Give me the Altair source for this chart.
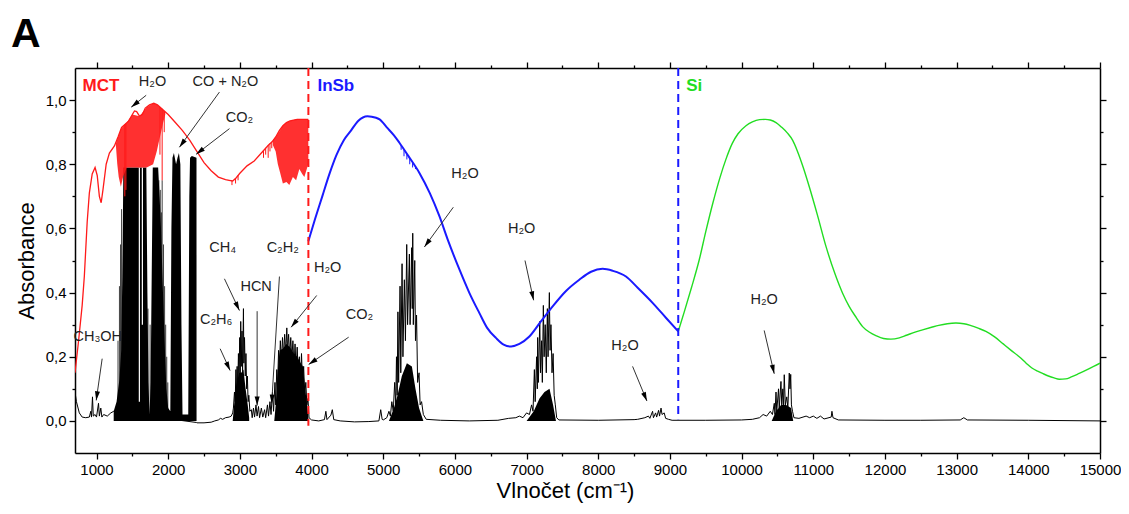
import math
import altair as alt
import pandas as pd

FONT = "Liberation Sans"
W, H = 1025, 385
XMIN, XMAX = 700, 15000
YMIN, YMAX = -0.1, 1.1

# ---------------- MCT detector (red) ----------------
mct_wn = [700, 750, 800, 830, 870, 900, 940, 980, 1010, 1040, 1065, 1090, 1135, 1180, 1250,
          1300, 1350, 1400, 1450, 1500, 1530, 1560, 1600, 1640, 1680, 1740, 1800, 1850, 1900,
          1950, 2000, 2100, 2200, 2300, 2400, 2500, 2600, 2700, 2800, 2850, 2900, 2950, 3000,
          3100, 3200, 3300, 3400, 3450, 3500, 3550, 3600, 3650, 3700, 3800, 3955]
mct_abs = [0.15, 0.25, 0.36, 0.45, 0.62, 0.71, 0.77, 0.79, 0.765, 0.70, 0.68, 0.72, 0.80, 0.835, 0.857,
           0.885, 0.915, 0.925, 0.935, 0.955, 0.966, 0.964, 0.95, 0.955, 0.975, 0.985, 0.99, 0.985, 0.975,
           0.965, 0.955, 0.93, 0.905, 0.875, 0.84, 0.805, 0.78, 0.76, 0.752, 0.75, 0.748, 0.758, 0.772,
           0.795, 0.81, 0.835, 0.86, 0.87, 0.885, 0.905, 0.92, 0.93, 0.935, 0.94, 0.94]

# dense water lines on the MCT curve (upper / lower envelope)
mct_b1_wn = [1270, 1290, 1310, 1340, 1370, 1420, 1500, 1600, 1700, 1790, 1840, 1870, 1900, 1930, 1960]
mct_b1_hi = [0.865, 0.878, 0.89, 0.91, 0.918, 0.929, 0.955, 0.95, 0.978, 0.989, 0.986, 0.981, 0.975, 0.969, 0.963]
mct_b1_lo = [0.86, 0.80, 0.76, 0.73, 0.76, 0.79, 0.79, 0.79, 0.79, 0.80, 0.84, 0.87, 0.90, 0.93, 0.955]

mct_b2_wn = [3460, 3500, 3530, 3560, 3600, 3650, 3690, 3740, 3785, 3830, 3870, 3900, 3940, 3955]
mct_b2_hi = [0.875, 0.885, 0.895, 0.905, 0.92, 0.93, 0.934, 0.937, 0.94, 0.94, 0.94, 0.94, 0.94, 0.94]
mct_b2_lo = [0.86, 0.84, 0.80, 0.775, 0.74, 0.745, 0.735, 0.76, 0.75, 0.785, 0.77, 0.76, 0.79, 0.80]

mct_sp_wn = [1916, 1885, 1945, 1395, 1410, 2890, 2940, 2975, 3330, 3360, 3395, 3420, 3445]
mct_sp_hi = [0.973, 0.978, 0.966, 0.924, 0.927, 0.749, 0.757, 0.766, 0.843, 0.851, 0.859, 0.865, 0.87]
mct_sp_lo = [0.75, 0.83, 0.90, 0.70, 0.72, 0.735, 0.74, 0.75, 0.82, 0.83, 0.82, 0.84, 0.85]

# ---------------- InSb detector (blue) ----------------
insb_wn = [3955, 4050, 4150, 4250, 4350, 4450, 4550, 4650, 4780, 4900, 4950, 5050, 5150, 5226, 5350,
           5505, 5650, 5784, 5900, 6063, 6200, 6342, 6450, 6575, 6680, 6784, 6900, 7039, 7200, 7364,
           7550, 7736, 7900, 8061, 8200, 8387, 8550, 8758, 8950, 9116]
insb_abs = [0.56, 0.63, 0.70, 0.77, 0.83, 0.875, 0.905, 0.935, 0.95, 0.945, 0.94, 0.915, 0.89, 0.867, 0.826,
            0.773, 0.71, 0.638, 0.565, 0.472, 0.40, 0.336, 0.29, 0.258, 0.238, 0.232, 0.24, 0.263, 0.31, 0.357,
            0.405, 0.44, 0.465, 0.474, 0.468, 0.45, 0.415, 0.368, 0.32, 0.279]
insb_sp_wn = [5250, 5290, 5330, 5370, 5410, 5450]
insb_sp_hi = [0.859, 0.846, 0.832, 0.819, 0.805, 0.791]
insb_sp_lo = [0.845, 0.825, 0.815, 0.80, 0.79, 0.785]

# ---------------- Si detector (green) ----------------
si_wn = [9116, 9200, 9300, 9410, 9500, 9600, 9700, 9782, 9870, 9950, 10061, 10150, 10250, 10330,
         10400, 10480, 10560, 10640, 10711, 10780, 10860, 10944, 11060, 11177, 11300, 11409, 11500,
         11600, 11688, 11780, 11880, 11980, 12083, 12200, 12300, 12420, 12524, 12650, 12750, 12870,
         12990, 13100, 13200, 13300, 13408, 13530, 13650, 13760, 13873, 13970, 14050, 14130, 14198,
         14280, 14360, 14431, 14520, 14600, 14710, 14850, 15000]
si_abs = [0.279, 0.34, 0.415, 0.503, 0.59, 0.68, 0.76, 0.816, 0.865, 0.895, 0.92, 0.932, 0.939, 0.94,
          0.938, 0.93, 0.915, 0.897, 0.875, 0.84, 0.79, 0.73, 0.64, 0.544, 0.46, 0.398, 0.357, 0.322,
          0.294, 0.277, 0.265, 0.257, 0.255, 0.259, 0.267, 0.277, 0.284, 0.292, 0.298, 0.303, 0.305,
          0.303, 0.297, 0.289, 0.279, 0.262, 0.24, 0.22, 0.20, 0.18, 0.165, 0.155, 0.148, 0.14, 0.134,
          0.13, 0.131, 0.137, 0.148, 0.163, 0.18]

# ---------------- gas spectrum (black) ----------------
gas_wn = [700, 720, 760, 800, 850, 900, 920, 930, 944, 955, 980, 1000, 1028, 1040, 1060, 1075, 1100,
          1150, 1200, 1240, 2397, 2400, 2500, 2600, 2650, 2700, 2730, 2760, 2800, 2850, 2880, 2900,
          2910, 2925, 2935, 2945, 2952, 2962, 2970, 2980, 2988, 2998, 3005, 3012, 3020, 3030, 3038,
          3050, 3056, 3065, 3075, 3085, 3095, 3105, 3115, 3125, 3140,
          3160, 3172, 3190, 3205, 3225, 3240, 3260, 3275, 3300, 3320, 3345, 3360, 3385, 3400, 3420,
          3435, 3455, 3470, 3490, 3500,
          3515, 3525, 3540, 3550, 3565, 3580, 3595, 3610, 3625, 3640, 3655, 3665, 3680, 3695, 3710,
          3725, 3740, 3755, 3770, 3785, 3800, 3815, 3830, 3845, 3860, 3875, 3890, 3905, 3920, 3935,
          3950, 3965, 4000, 4100, 4180, 4200, 4215, 4270, 4290, 4310, 4400, 4600, 4800, 4940, 4965,
          4985, 5000, 5050,
          5080, 5100, 5120, 5140, 5160, 5175, 5185, 5195, 5205, 5215, 5235, 5245, 5263, 5275, 5295,
          5310, 5328, 5340, 5365, 5375, 5397, 5405, 5412, 5420, 5440, 5450, 5465, 5480, 5500, 5515,
          5535, 5560, 5600, 5800, 6200, 6600, 6750, 6850,
          6900, 6950, 7000, 7040, 7070, 7090, 7109, 7120, 7140, 7150, 7155, 7165, 7184, 7195, 7210,
          7220, 7234, 7245, 7260, 7275, 7290, 7300, 7318, 7328, 7340, 7355, 7370, 7385, 7401, 7420,
          7450, 8000, 8500,
          8550, 8650, 8700, 8720, 8758, 8770, 8800, 8815, 8842, 8855, 8876, 8890, 8920, 8940, 8980,
          9030, 9500, 10000, 10150, 10250, 10300, 10350, 10400, 10430, 10456, 10465, 10480, 10490,
          10515, 10525, 10549, 10560, 10575, 10585, 10595, 10610, 10630, 10645, 10665, 10675, 10685,
          10695, 10710, 10730, 10800, 10900, 10950, 11000, 11050, 11100, 11150, 11250, 11260, 11275,
          11350, 12000, 12500, 13050, 13100, 13150, 14000, 15000]
gas_abs = [0.09, 0.06, 0.025, 0.012, 0.01, 0.012, 0.03, 0.012, 0.075, 0.015, 0.02, 0.012, 0.055, 0.015,
           0.04, 0.012, 0.02, 0.015, 0.025, 0.03, -0.005, -0.006, -0.006, -0.004, 0.0, 0.003, 0.008,
           0.005, 0.01, 0.012, 0.015, 0.025,
           0.04, 0.09, 0.06, 0.16, 0.08, 0.17, 0.10, 0.21, 0.12, 0.26, 0.14, 0.31, 0.17, 0.28, 0.15,
           0.35, 0.18, 0.26, 0.14, 0.21, 0.10, 0.14, 0.06, 0.08, 0.03,
           0.035, 0.01, 0.04, 0.012, 0.05, 0.015, 0.045, 0.01, 0.04, 0.012, 0.035, 0.01, 0.05, 0.015,
           0.06, 0.02, 0.09, 0.03, 0.12, 0.05,
           0.16, 0.10, 0.22, 0.15, 0.25, 0.18, 0.26, 0.20, 0.27, 0.21, 0.29, 0.22, 0.27, 0.20, 0.26,
           0.19, 0.25, 0.17, 0.24, 0.16, 0.23, 0.14, 0.20, 0.12, 0.21, 0.11, 0.17, 0.08, 0.12, 0.05,
           0.07, 0.01, 0.003, 0.0, 0.004, 0.03, 0.004, 0.018, 0.035, 0.004, 0.0, -0.003, -0.002, 0.0,
           0.035, 0.005, 0.003, 0.01,
           0.03, 0.015, 0.06, 0.03, 0.12, 0.05, 0.20, 0.08, 0.34, 0.12, 0.42, 0.15, 0.49, 0.20, 0.44,
           0.25, 0.55, 0.30, 0.52, 0.30, 0.54, 0.35, 0.585, 0.30, 0.50, 0.25, 0.33, 0.12, 0.15, 0.05,
           0.06, 0.02, 0.005, 0.002, 0.0, 0.002, 0.008, 0.01,
           0.015, 0.01, 0.025, 0.02, 0.05, 0.03, 0.16, 0.06, 0.20, 0.10, 0.26, 0.12, 0.31, 0.15, 0.25,
           0.12, 0.36, 0.20, 0.30, 0.15, 0.35, 0.20, 0.40, 0.22, 0.30, 0.15, 0.21, 0.08, 0.05, 0.01,
           0.003, 0.002, 0.004,
           0.005, 0.01, 0.015, 0.008, 0.03, 0.01, 0.025, 0.012, 0.033, 0.015, 0.04, 0.02, 0.025, 0.008,
           0.005, 0.002, 0.002, 0.003, 0.005, 0.01, 0.02, 0.015, 0.03, 0.02, 0.055, 0.02, 0.09, 0.03,
           0.10, 0.04, 0.123, 0.05, 0.10, 0.04, 0.144, 0.05, 0.075, 0.04, 0.149, 0.10, 0.145, 0.05,
           0.03, 0.01, 0.008, 0.015, 0.01, 0.015, 0.008, 0.015, 0.006, 0.012, 0.03, 0.01, 0.003, 0.002,
           0.002, 0.003, 0.01, 0.003, 0.002, 0.0]

# saturated / dense parts of the gas spectrum (filled envelopes)
fill_band = (["b1"] * 36 + ["b2"] * 10 + ["b3"] * 15 + ["b4"] * 9 + ["b5"] * 7 + ["b6"] * 6)
fill_wn = [1240, 1280, 1320, 1345, 1360, 1375, 1695, 1710, 1725, 1740, 1755, 1770,
           1785, 1860, 1880, 1900, 1920, 1950, 1975, 2000, 2030, 2045, 2060, 2080, 2110, 2130, 2150,
           2170, 2185, 2200, 2280, 2295, 2305, 2330, 2395, 2396,
           2900, 2920, 2940, 2960, 2990, 3020, 3050, 3080, 3110, 3130,
           3480, 3500, 3520, 3540, 3560, 3600, 3650, 3700, 3750, 3800, 3850, 3880, 3910, 3940, 3960,
           5080, 5150, 5200, 5260, 5330, 5400, 5450, 5500, 5560,
           7000, 7100, 7180, 7250, 7320, 7370, 7410,
           10420, 10480, 10550, 10620, 10690, 10720]
fill_abs = [0.03, 0.06, 0.13, 0.22, 0.45, 0.79, 0.79, 0.40, 0.12, 0.02, 0.12, 0.45,
            0.79, 0.79, 0.70, 0.60, 0.45, 0.25, 0.10, 0.04, 0.03, 0.6, 0.82, 0.835, 0.80, 0.82, 0.835,
            0.80, 0.3, 0.02, 0.02, 0.7, 0.82, 0.826, 0.82, -0.005,
            0.0, 0.05, 0.10, 0.12, 0.15, 0.15, 0.16, 0.10, 0.05, 0.01,
            0.0, 0.05, 0.12, 0.19, 0.22, 0.225, 0.24, 0.23, 0.21, 0.20, 0.18, 0.17, 0.10, 0.05, 0.0,
            0.0, 0.04, 0.08, 0.14, 0.18, 0.17, 0.10, 0.04, 0.0,
            0.0, 0.03, 0.07, 0.09, 0.10, 0.05, 0.0,
            0.0, 0.03, 0.05, 0.05, 0.04, 0.0]

# isolated absorption lines at the edges of the strong water band
line_wn = [1300, 1320, 1335, 1350, 1718, 1748, 1870, 1890, 1905, 1916, 1935, 1950, 1965, 1980, 1995]
line_abs = [0.25, 0.42, 0.55, 0.66, 0.35, 0.30, 0.75, 0.72, 0.65, 0.75, 0.55, 0.42, 0.30, 0.20, 0.12]
# narrow transmission windows inside the saturated water band
gap_wn = [1598, 1640]
gap_abs = [0.06, 0.30]

# ---------------- detector boundaries ----------------
bound_wn = [3956, 9116]
bound_top = [1.1, 1.1]
bound_bot = [-0.015, 0.005]
bound_col = ["#ff1a1a", "#1a1aff"]

# ---------------- annotations ----------------
det_text = ["MCT", "InSb", "Si"]
det_wn = [805, 4082, 9226]
det_abs = [1.043, 1.043, 1.043]
det_col = ["#ff1a1a", "#1a1aff", "#22dd22"]

lab_text = ["H₂O", "CO + N₂O", "CO₂", "CH₃OH", "CH₄", "C₂H₆", "HCN", "C₂H₂", "H₂O", "CO₂",
            "H₂O", "H₂O", "H₂O", "H₂O"]
lab_wn = [1781, 2799, 2994, 1018, 2761, 2669, 3227, 3598, 4225, 4667, 6141, 6931, 8373, 10315]
lab_abs = [1.055, 1.055, 0.943, 0.263, 0.54, 0.315, 0.417, 0.54, 0.478, 0.329, 0.771, 0.597, 0.233, 0.376]

arr_wn1 = [1693, 2715, 2855, 1079, 2785, 2725, 3241, 3552, 4072, 4518, 5978, 6978, 8479, 10315]
arr_a1 = [1.015, 1.025, 0.911, 0.194, 0.443, 0.225, 0.342, 0.45, 0.391, 0.261, 0.666, 0.50, 0.17, 0.282]
arr_wn2 = [1484, 2157, 2390, 996, 2994, 2864, 3241, 3444, 3715, 3960, 5574, 7098, 8679, 10455]
arr_a2 = [0.978, 0.853, 0.831, 0.064, 0.344, 0.157, 0.048, 0.054, 0.292, 0.176, 0.542, 0.376, 0.062, 0.147]

# ---------------- build tables ----------------
xs = alt.Scale(domain=[XMIN, XMAX], nice=False, zero=False)
ys = alt.Scale(domain=[YMIN, YMAX], nice=False, zero=False)


def X(f="wn"):
    return alt.X(f"{f}:Q", scale=xs, axis=None)


def Y(f="a"):
    return alt.Y(f"{f}:Q", scale=ys, axis=None, stack=None)


gas = pd.DataFrame({"wn": gas_wn, "a": gas_abs})
fills = pd.DataFrame({"wn": fill_wn, "a": fill_abs, "band": fill_band})
lines = pd.DataFrame({"wn": line_wn, "a": line_abs, "z": [0.0] * len(line_wn)})
gaps = pd.DataFrame({"wn": gap_wn, "a": gap_abs, "top": [0.79] * len(gap_wn)})
mct = pd.DataFrame({"wn": mct_wn, "a": mct_abs})
mct_bands = pd.concat([
    pd.DataFrame({"wn": mct_b1_wn, "hi": mct_b1_hi, "lo": mct_b1_lo, "band": "r1"}),
    pd.DataFrame({"wn": mct_b2_wn, "hi": mct_b2_hi, "lo": mct_b2_lo, "band": "r2"}),
])
mct_sp = pd.DataFrame({"wn": mct_sp_wn, "hi": mct_sp_hi, "lo": mct_sp_lo})
insb = pd.DataFrame({"wn": insb_wn, "a": insb_abs})
insb_sp = pd.DataFrame({"wn": insb_sp_wn, "hi": insb_sp_hi, "lo": insb_sp_lo})
si = pd.DataFrame({"wn": si_wn, "a": si_abs})
bounds = pd.DataFrame({"wn": bound_wn, "top": bound_top, "bot": bound_bot, "col": bound_col})
dets = pd.DataFrame({"wn": det_wn, "a": det_abs, "t": det_text, "col": det_col})
labs = pd.DataFrame({"wn": lab_wn, "a": lab_abs, "t": lab_text})

px_wn = W / (XMAX - XMIN)
px_a = H / (YMAX - YMIN)
angles = []
for x1, y1, x2, y2 in zip(arr_wn1, arr_a1, arr_wn2, arr_a2):
    dx = (x2 - x1) * px_wn
    dy = -(y2 - y1) * px_a
    angles.append((math.degrees(math.atan2(dx, -dy)) + 360) % 360)
arrows = pd.DataFrame({"wn1": arr_wn1, "a1": arr_a1, "wn2": arr_wn2, "a2": arr_a2, "ang": angles})

# ---------------- layers ----------------
gas_fill = alt.Chart(fills).mark_area(color="black", opacity=1, clip=True).encode(
    x=X(), y=Y(), detail="band:N")
gas_gaps = alt.Chart(gaps).mark_rule(color="white", strokeWidth=1.2).encode(
    x=X(), y=Y(), y2="top:Q")
gas_lines = alt.Chart(lines).mark_rule(color="black", strokeWidth=1, opacity=0.75).encode(
    x=X(), y=Y(), y2="z:Q")
gas_line = alt.Chart(gas).mark_line(color="black", strokeWidth=1, clip=True).encode(x=X(), y=Y())

mct_band_layer = alt.Chart(mct_bands).mark_area(color="#ff1a1a", opacity=0.9).encode(
    x=X(), y=Y("hi"), y2="lo:Q", detail="band:N")
mct_sp_layer = alt.Chart(mct_sp).mark_rule(color="#ff1a1a", strokeWidth=1).encode(
    x=X(), y=Y("hi"), y2="lo:Q")
mct_line = alt.Chart(mct).mark_line(color="#ff1a1a", strokeWidth=1.3, clip=True).encode(x=X(), y=Y())
insb_line = alt.Chart(insb).mark_line(color="#1a1aff", strokeWidth=2, interpolate="monotone").encode(
    x=X(), y=Y())
insb_sp_layer = alt.Chart(insb_sp).mark_rule(color="#1a1aff", strokeWidth=1).encode(
    x=X(), y=Y("hi"), y2="lo:Q")
si_line = alt.Chart(si).mark_line(color="#22dd22", strokeWidth=1.4, clip=True,
                                  interpolate="monotone").encode(x=X(), y=Y())

bound_layer = alt.Chart(bounds).mark_rule(strokeWidth=2, strokeDash=[8, 5]).encode(
    x=X(), y=Y("top"), y2="bot:Q", color=alt.Color("col:N", scale=None))

det_layer = alt.Chart(dets).mark_text(align="left", baseline="middle", font=FONT, fontSize=17,
                                      fontWeight="bold").encode(
    x=X(), y=Y(), text="t:N", color=alt.Color("col:N", scale=None))
lab_layer = alt.Chart(labs).mark_text(align="center", baseline="middle", font=FONT, fontSize=14.5,
                                      color="#222222").encode(x=X(), y=Y(), text="t:N")
shaft = alt.Chart(arrows).mark_rule(color="#333333", strokeWidth=1).encode(
    x=X("wn1"), y=Y("a1"), x2="wn2:Q", y2="a2:Q")
head = alt.Chart(arrows).mark_point(shape="M0,0L-0.5,1.8L0.5,1.8Z", filled=True, size=100,
                                    color="black", opacity=1).encode(
    x=X("wn2"), y=Y("a2"), angle=alt.Angle("ang:Q", scale=None))

# ---------------- axes (frame with major and minor ticks on all sides) ----------------
dummy = pd.DataFrame({"wn": [XMIN, XMAX], "a": [YMIN, YMAX]})
x_major = list(range(1000, 15001, 1000))
x_minor = list(range(1500, 14501, 1000))
y_major = [0.0, 0.2, 0.4, 0.6, 0.8, 1.0]
y_minor = [0.1, 0.3, 0.5, 0.7, 0.9]

common = dict(grid=False, tickColor="black", domainColor="black", tickWidth=1.3, domainWidth=1.5)


def axis_layer(xaxis, yaxis):
    return alt.Chart(dummy).mark_point(opacity=0).encode(
        x=alt.X("wn:Q", scale=xs, axis=xaxis), y=alt.Y("a:Q", scale=ys, axis=yaxis))


ax_main = axis_layer(
    alt.Axis(orient="bottom", values=x_major, format="d", tickSize=6, labelFont=FONT, labelFontSize=15,
             labelColor="black", labelPadding=3, labelFlush=False, title="Vlnočet (cm⁻¹)",
             titleFont=FONT, titleFontSize=22, titleFontWeight="normal", titleColor="black",
             titlePadding=3, titleX=490, **common),
    alt.Axis(orient="left", values=y_major, tickSize=6, labelFont=FONT, labelFontSize=15,
             labelColor="black", labelPadding=3,
             labelExpr="replace(format(datum.value, '.1f'), '.', ',')", title="Absorbance",
             titleFont=FONT, titleFontSize=22, titleFontWeight="normal", titleColor="black",
             titlePadding=7, **common))
ax_minor = axis_layer(
    alt.Axis(orient="bottom", values=x_minor, tickSize=3, labels=False, domain=False, title=None, **common),
    alt.Axis(orient="left", values=y_minor, tickSize=3, labels=False, domain=False, title=None, **common))
ax_mirror = axis_layer(
    alt.Axis(orient="top", values=x_major, tickSize=6, labels=False, title=None, **common),
    alt.Axis(orient="right", values=y_major, tickSize=6, labels=False, title=None, **common))
ax_mirror_minor = axis_layer(
    alt.Axis(orient="top", values=x_minor, tickSize=3, labels=False, domain=False, title=None, **common),
    alt.Axis(orient="right", values=y_minor, tickSize=3, labels=False, domain=False, title=None, **common))

chart = alt.layer(
    ax_main, ax_minor, ax_mirror, ax_mirror_minor,
    gas_fill, gas_gaps, gas_lines, gas_line,
    mct_band_layer, mct_sp_layer, mct_line, insb_sp_layer, insb_line, si_line,
    bound_layer, shaft, head, lab_layer, det_layer,
).resolve_axis(x="independent", y="independent").properties(
    width=W, height=H,
    autosize=alt.AutoSizeParams(type="none"),
    padding={"left": 67, "top": 60, "right": 21, "bottom": 53},
    title=alt.TitleParams(text="A", anchor="start", frame="group", font=FONT, fontSize=41,
                          fontWeight="bold", color="black", dx=-64, offset=5),
).configure_view(stroke=None).configure(background="white")

chart.save("out.html", embed_options={"renderer": "svg", "actions": False})
